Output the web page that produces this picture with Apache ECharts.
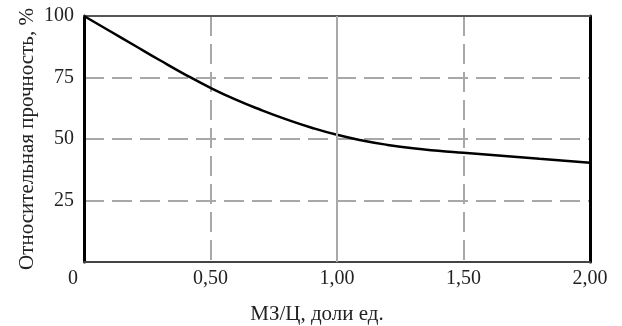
<!DOCTYPE html>
<html>
<head>
<meta charset="utf-8">
<script src="https://cdn.jsdelivr.net/npm/echarts@6/dist/echarts.min.js"></script>
<style>
  html, body { margin: 0; padding: 0; background: #fff; }
  #chart { width: 622px; height: 326px; }
</style>
</head>
<body>
<div id="chart"></div>
<script>
// МЗ/Ц, доли ед.
var ratio = [0, 0.1, 0.2, 0.3, 0.4, 0.5, 0.6, 0.7, 0.8, 0.9, 1.0,
             1.1, 1.2, 1.3, 1.4, 1.5, 1.6, 1.7, 1.8, 1.9, 2.0];
// Относительная прочность, %
var strength = [100, 94.0, 88.0, 82.0, 76.2, 70.8, 66.0, 61.8, 58.0, 54.6, 51.7,
                49.4, 47.6, 46.2, 45.2, 44.4, 43.6, 42.8, 42.0, 41.2, 40.3];
var solidGridX = [1.0];

var serif = '"Liberation Serif", "DejaVu Serif", serif';
var textColor = '#222';

var fmtX = function (v) {
    if (v === 0) return '{z|0}';
    return v.toFixed(2).replace('.', ',');
};

var chart = echarts.init(document.getElementById('chart'));
chart.setOption({
    animation: false,
    grid: { left: 84, right: 32, top: 16, bottom: 64, outerBoundsMode: 'none', containLabel: false },
    xAxis: [{
        type: 'value',
        min: 0, max: 2, interval: 0.5,
        name: 'МЗ/Ц, доли ед.',
        nameLocation: 'middle',
        nameGap: 42,
        nameMoveOverlap: false,
        nameTextStyle: { fontFamily: serif, fontSize: 21, color: textColor, padding: [0, 40, 0, 0] },
        axisLine: { show: true, onZero: false, lineStyle: { color: '#444', width: 2 } },
        axisTick: { show: false },
        axisLabel: {
            formatter: fmtX, margin: 7,
            fontFamily: serif, fontSize: 20, color: textColor,
            rich: { z: { fontFamily: serif, fontSize: 20, color: textColor, padding: [0, 22, 0, 0] } }
        },
        splitLine: {
            show: true, showMinLine: false, showMaxLine: false,
            lineStyle: { color: '#a8a8a8', width: 2, type: [20, 8] }
        }
    }, {
        type: 'value', position: 'top',
        min: 0, max: 2,
        axisLine: { show: true, onZero: false, lineStyle: { color: '#555', width: 2 } },
        axisTick: { show: false }, axisLabel: { show: false }, splitLine: { show: false }
    }],
    yAxis: [{
        type: 'value',
        min: 0, max: 100, interval: 25,
        name: 'Относительная прочность, %',
        nameLocation: 'middle',
        nameGap: 46,
        nameMoveOverlap: false,
        nameTextStyle: { fontFamily: serif, fontSize: 21, color: textColor },
        axisLine: { show: true, onZero: false, lineStyle: { color: '#000', width: 3 } },
        axisTick: { show: false },
        axisLabel: {
            margin: 10, fontFamily: serif, fontSize: 20, color: textColor,
            formatter: function (v) { return v === 0 ? '' : String(v); }
        },
        splitLine: {
            show: true, showMinLine: false, showMaxLine: false,
            lineStyle: { color: '#a8a8a8', width: 2, type: [20, 8] }
        }
    }, {
        type: 'value', position: 'right',
        min: 0, max: 100,
        axisLine: { show: true, onZero: false, lineStyle: { color: '#000', width: 3 } },
        axisTick: { show: false }, axisLabel: { show: false }, splitLine: { show: false }
    }],
    series: [{
        type: 'line',
        data: ratio.map(function (x, i) { return [x, strength[i]]; }),
        smooth: 0.5,
        symbol: 'none',
        lineStyle: { color: '#000', width: 2.5 },
        markLine: {
            silent: true,
            symbol: 'none',
            label: { show: false },
            lineStyle: { color: '#a8a8a8', width: 2, type: 'solid' },
            data: solidGridX.map(function (x) { return { xAxis: x }; })
        },
        z: 3
    }]
});
</script>
</body>
</html>
